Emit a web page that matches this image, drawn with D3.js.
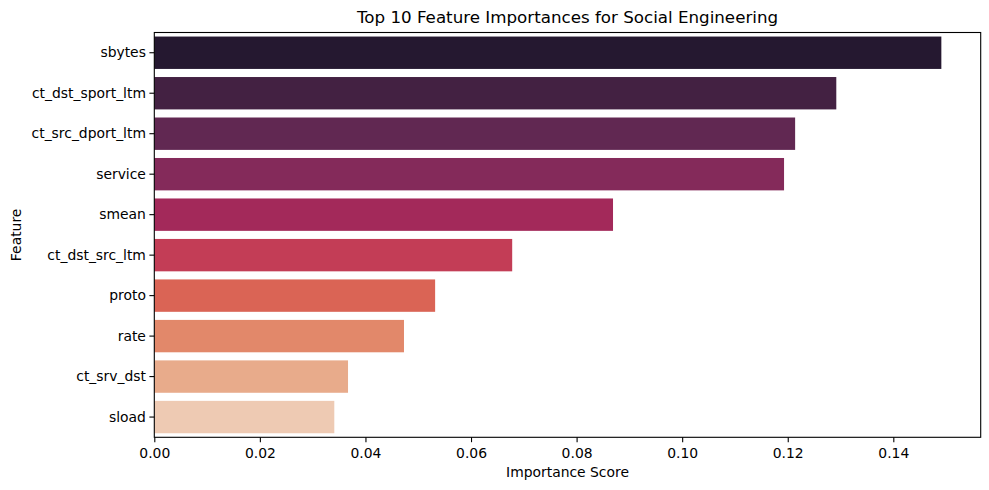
<!DOCTYPE html>
<html>
<head>
<meta charset="utf-8">
<script src="https://cdn.jsdelivr.net/npm/d3@7"></script>
<style>
  body { margin: 0; background: #fff; }
  text { font-family: "DejaVu Sans", sans-serif; fill: #000; }
</style>
</head>
<body>
<svg id="chart" width="989" height="490"></svg>
<script>
// data
const features = ["sbytes", "ct_dst_sport_ltm", "ct_src_dport_ltm", "service", "smean",
                  "ct_dst_src_ltm", "proto", "rate", "ct_srv_dst", "sload"];
const scores = [0.1491, 0.1292, 0.1214, 0.1193, 0.0869, 0.0678, 0.0532, 0.0473, 0.0367, 0.0341];
const colors = ["#251830", "#432142", "#612852", "#842a5a", "#a3295a",
                "#c33d56", "#da6455", "#e2886a", "#e8ab8b", "#eecab3"];
const xTicks = [0, 0.02, 0.04, 0.06, 0.08, 0.10, 0.12, 0.14];

const margin = {top: 32.5, right: 8.3, bottom: 52.7, left: 154.3};
const width = 989 - margin.left - margin.right;
const height = 490 - margin.top - margin.bottom;

const svg = d3.select("#chart");
const g = svg.append("g").attr("transform", `translate(${margin.left},${margin.top})`);

let x = d3.scaleLinear().domain([0, d3.max(scores) * 1.05]).range([0, width]);
let y = d3.scaleBand().domain(features).range([0, height]).paddingInner(0.2).paddingOuter(0.1);

// bars
g.selectAll("rect.bar")
  .data(features)
  .enter().append("rect")
  .attr("class", "bar")
  .attr("x", 0)
  .attr("y", d => y(d))
  .attr("width", (d, i) => x(scores[i]))
  .attr("height", y.bandwidth())
  .attr("fill", (d, i) => colors[i]);

// axes
let xAxis = g.append("g")
  .attr("transform", `translate(0,${height})`)
  .call(d3.axisBottom(x).tickValues(xTicks).tickFormat(d3.format(".2f")).tickSizeOuter(0).tickSize(4.9).tickPadding(3.5));

let yAxis = g.append("g")
  .call(d3.axisLeft(y).tickSizeOuter(0).tickSize(4.9).tickPadding(3.5));

[xAxis, yAxis].forEach(a => {
  a.selectAll("text").style("font-size", "13.9px").style("font-family", "DejaVu Sans, sans-serif").attr("fill", "#000");
  a.selectAll("line").attr("stroke", "#000").attr("stroke-width", 1.1);
  a.select(".domain").remove();
});
xAxis.selectAll("text").attr("dy", "0.9em");

// frame
g.append("rect")
  .attr("x", 0).attr("y", 0)
  .attr("width", width).attr("height", height)
  .attr("fill", "none").attr("stroke", "#000").attr("stroke-width", 1.1);

// title and labels
svg.append("text")
  .attr("x", margin.left + width / 2).attr("y", 23)
  .attr("text-anchor", "middle")
  .style("font-size", "16.7px")
  .text("Top 10 Feature Importances for Social Engineering");

svg.append("text")
  .attr("x", margin.left + width / 2).attr("y", 477)
  .attr("text-anchor", "middle")
  .style("font-size", "13.9px")
  .text("Importance Score");

svg.append("text")
  .attr("transform", `translate(21,${margin.top + height / 2}) rotate(-90)`)
  .attr("text-anchor", "middle")
  .style("font-size", "13.9px")
  .text("Feature");
</script>
</body>
</html>
